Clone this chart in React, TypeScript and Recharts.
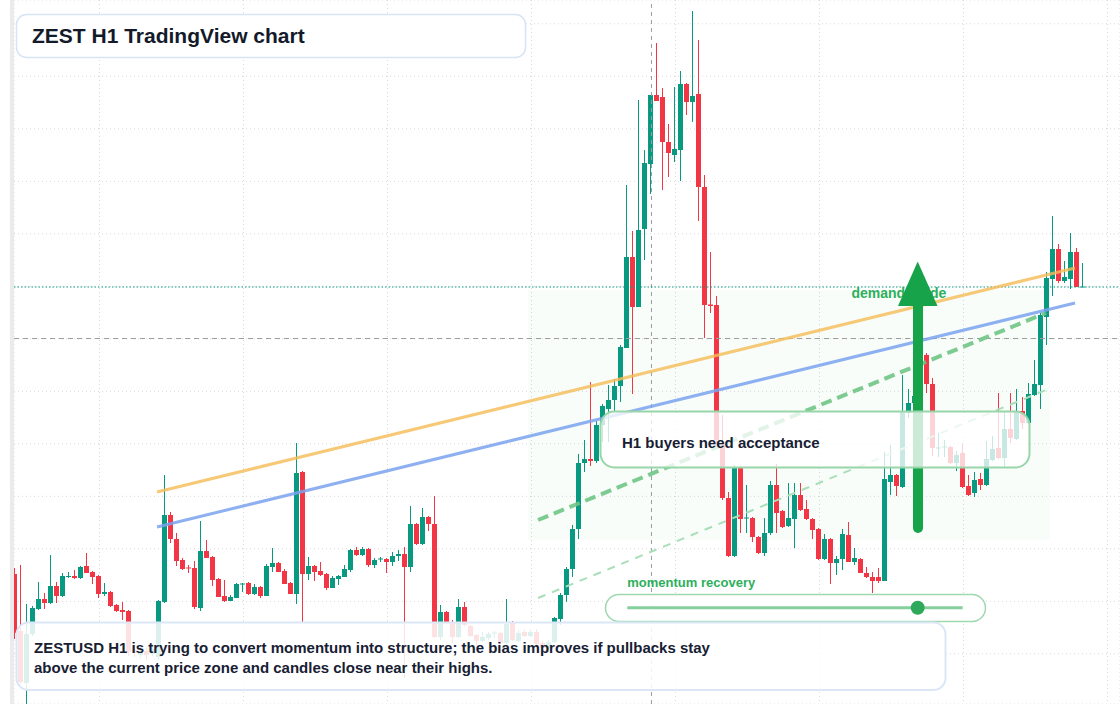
import React from 'react';
import {
  ComposedChart,
  Bar,
  XAxis,
  YAxis,
  CartesianGrid,
  ReferenceLine,
  ReferenceArea,
} from 'recharts';

// ZESTUSD H1 candles, price units (no axis is shown)
const opens = [
  130, 73, 21, 70, 95, 105, 101, 118, 108, 127, 128, 126, 138, 132, 128, 110, 112, 99, 94, 93,
  54, 49, 53, 50, 47, 102, 189, 165, 144, 136.5, 136, 96, 153, 147, 125, 108, 103, 106, 119.5, 121,
  110, 117, 108, 137, 141, 133, 121, 110, 232, 130, 138, 133, 130, 116, 125, 127, 134, 154, 149, 155,
  139, 144.5, 145, 142, 148, 150, 137, 180, 160, 187, 180, 67, 92, 82, 67, 97, 78, 69, 63, 66,
  70.5, 71, 61, 81, 63, 72, 68, 72, 61, 56, 62, 85, 109, 135, 175, 241, 245, 243, 279, 295,
  304, 318, 356, 447, 397, 475, 540, 609, 607, 562, 549, 554, 620, 602, 610, 517, 399.5, 399, 259, 206,
  148, 237, 185.5, 186, 167, 151, 171, 219, 193, 178, 185, 209, 195, 185, 175, 145, 165, 141, 145, 169,
  142, 145, 131, 127, 127, 123, 222, 229, 217, 291, 301, 308, 349, 320, 255.5, 256.5, 257, 241, 251, 218,
  211, 225, 219, 244, 256, 246, 275, 265, 293, 281, 309, 319, 387, 425, 455, 423, 425, 452, 417,
];
const highs = [
  136, 139, 100, 98, 122, 111, 149, 122, 131, 132, 134, 138, 151, 133, 129, 121, 113, 100, 102, 94,
  59, 58, 57, 60, 104, 229, 192, 171, 146, 139, 143, 183, 164, 148, 126, 124, 109, 121, 121, 122,
  120, 118, 140, 156, 142, 135, 122, 261, 233, 147, 139, 142, 131, 128, 129, 139, 155, 157, 157, 156,
  146, 147, 146, 152, 154, 157, 198, 181, 196, 188, 208, 99, 93, 84, 105, 102, 79, 70, 72, 72,
  73, 72, 105, 83, 74, 74, 74, 75, 63, 64, 87, 111, 137, 179, 250, 264, 322, 283, 300, 319,
  325, 359, 519, 473, 604, 554, 609, 661, 616, 580, 617, 633, 621, 693, 664, 529, 452, 408, 289, 212,
  239, 238, 219, 187, 168, 186, 223, 240, 194, 221, 221, 221, 204, 186, 176, 170, 166, 148, 175, 182,
  156, 146, 137, 132, 136, 252, 259, 230, 329, 315, 314, 352, 351, 326, 271, 264, 258, 253, 261, 229,
  232, 231, 263, 268, 311, 293, 311, 315, 307, 321, 344, 391, 432, 488, 460, 443, 471, 456, 441,
];
const lows = [
  65, 20, 0, 68, 94, 95, 100, 101, 107, 126, 125, 125, 131, 120, 106, 108, 97, 92, 84, 48,
  47, 46, 44, 48, 44, 101, 161, 138, 134, 131, 95, 93, 146, 118, 107, 102, 103, 106, 112, 109,
  109, 106, 108, 132, 132, 120, 110, 100, 81, 124, 123, 128, 114, 116, 119, 127, 132, 148, 148, 137,
  136, 142, 131, 138, 143, 26, 132, 159, 159, 173, 66, 64, 81, 61, 66, 78, 67, 59, 62, 64,
  66, 60, 60, 63, 62, 67, 67, 58, 54, 52, 61, 79, 102, 127, 165, 232, 238, 241, 262, 262,
  293, 302, 356, 310, 397, 444, 510, 603, 514, 527, 542, 523, 589, 582, 483, 366, 391, 259, 204, 147,
  147, 171, 171, 162, 150, 148, 169, 171, 176, 177, 156, 193, 184, 165, 144, 144, 120, 129, 134, 142,
  139, 131, 126, 111, 121, 123, 209, 208, 216, 286, 299, 306, 311, 248, 247, 247, 240, 233, 216, 208,
  207, 214, 218, 243, 245, 237, 261, 264, 275, 280, 308, 295, 359, 408, 421, 421, 415, 417, 417,
];
const closes = [
  71, 22, 70, 96, 105, 101, 118, 108, 128, 128, 126, 137, 131, 127, 110, 112, 98, 93, 92, 52,
  51, 53, 49, 55, 103, 189, 165, 143, 135, 135.5, 97, 153, 146, 124, 107, 103, 107, 120, 120.5, 110,
  117, 108, 138, 141, 132, 120, 110, 231, 130, 138, 132, 129, 116, 126, 128, 135, 154, 149, 155, 139,
  144, 145.5, 142, 148, 150, 137, 180, 160, 187, 180, 67, 92, 82, 67, 97, 79, 68, 63, 67, 70,
  71.5, 61, 80, 64, 71, 68, 72, 60, 56, 62, 86, 109, 135, 175, 241, 245, 243, 279, 298, 304,
  318, 357, 447, 397, 474, 541, 609, 603, 562, 551, 555, 620, 602, 608, 517, 399, 398, 264, 206, 148,
  237, 185, 186.5, 167, 151, 171, 219, 191, 177, 186, 209, 194, 185, 174, 145, 165, 141, 145, 170, 142,
  146, 131, 127, 123, 123, 225, 229, 218, 292, 301, 308, 349, 320, 256, 256.5, 257.5, 241, 249, 217, 209,
  224, 219, 245, 255, 246, 275, 266, 292, 281, 310, 320, 389, 426, 455, 423, 427, 452, 417, 417.5,
];

// dotted grid positions (bar index / price)
const xGridTicks = [14.08, 38.08, 62.08, 86.08, 110.08, 134.08, 158.08, 182.08];
const yGridTicks = [680.2, 627.7, 575.2, 522.7, 470.2, 417.7, 365.2, 312.7, 260.2, 207.7, 155.2, 102.7, 50.2];

// levels and drawings
const lastPrice = 417;
const crossPrice = 365.5;
const crossBar = 106.08;
const demandZone = { x1: 85.5, x2: 172.5, y1: 164, y2: 414 };
const orangeTrend = [{ x: 23.67, y: 212 }, { x: 176.67, y: 436 }];
const blueTrend = [{ x: 23.67, y: 177 }, { x: 176.67, y: 401 }];
const greenTrend = [{ x: 87.17, y: 184 }, { x: 171.83, y: 391 }];
const lightTrend = [{ x: 87.17, y: 106 }, { x: 171.83, y: 314 }];

const GREEN = '#089981';
const RED = '#f23645';
const FONT = '"Liberation Sans", Arial, Helvetica, sans-serif';

const candles = opens.map((o, i) => ({
  i,
  o,
  h: highs[i],
  l: lows[i],
  c: closes[i],
}));

function Candle(props: any) {
  const { x, y, width, height, payload } = props;
  if (x == null || y == null || !payload) return null;
  const { o, h, l, c } = payload;
  const color = c >= o ? GREEN : RED;
  const top = Math.min(y, y + height);
  const span = Math.abs(height);
  const k = h === l ? 0 : span / (h - l);
  const bodyTop = top + (h - Math.max(o, c)) * k;
  const bodyH = Math.max(1, Math.abs(o - c) * k);
  const left = Math.round(x + width / 2 - 2.5);
  const cx = left + 2.5;
  return (
    <g>
      <line x1={cx} x2={cx} y1={top} y2={top + span} stroke={color} strokeWidth={1} />
      <rect x={left} y={bodyTop} width={5} height={bodyH} fill={color} />
    </g>
  );
}

export default function App() {
  return (
    <div style={{ position: 'relative', width: 1120, height: 704, background: '#fff', fontFamily: FONT }}>
      <style>{'body{margin:0}'}</style>
      <ComposedChart
        width={1120}
        height={704}
        data={candles}
        margin={{ top: 0, right: 0, bottom: 0, left: 14 }}
      >
        <CartesianGrid stroke="#d6d9dd" strokeDasharray="1 3" />
        <XAxis
          dataKey="i"
          type="number"
          domain={[-1 / 6, 1105 / 6]}
          ticks={xGridTicks}
          allowDataOverflow
          hide
        />
        <YAxis type="number" domain={[0, 704]} ticks={yGridTicks} allowDataOverflow hide />
        <ReferenceArea
          x1={demandZone.x1}
          x2={demandZone.x2}
          y1={demandZone.y1}
          y2={demandZone.y2}
          fill="#22c55e"
          fillOpacity={0.03}
          stroke="none"
        />
        <ReferenceLine x={crossBar} stroke="#9e9e9e" strokeDasharray="4 4" />
        <ReferenceLine y={crossPrice} stroke="#9e9e9e" strokeDasharray="5 4" />
        <ReferenceLine y={lastPrice} stroke={GREEN} strokeDasharray="1.5 2" />
        <Bar
          dataKey={(d: any) => [d.l, d.h]}
          barSize={5}
          shape={<Candle />}
          isAnimationActive={false}
        />
        <ReferenceLine segment={lightTrend} stroke="#a9dfb8" strokeWidth={2} strokeDasharray="8 7" />
        <ReferenceLine segment={greenTrend} stroke="#6fc585" strokeWidth={4} strokeDasharray="11 6" strokeOpacity={0.9} />
        <ReferenceLine segment={blueTrend} stroke="#7aa2ef" strokeWidth={3} strokeOpacity={0.85} />
        <ReferenceLine segment={orangeTrend} stroke="#f5bb55" strokeWidth={3} strokeOpacity={0.8} />
      </ComposedChart>

      <svg
        width={1120}
        height={704}
        style={{ position: 'absolute', left: 0, top: 0, pointerEvents: 'none' }}
      >
        <rect x={10} y={0} width={4} height={704} fill="#ebebeb" />

        <text x={851.5} y={297.5} fontSize={14} fontWeight={700} fill="#2eaf5c" fontFamily={FONT}>
          demand guide
        </text>
        <polygon points="898,306 937.5,306 917.7,261.5" fill="#17a34a" />
        <rect x={913} y={300} width={10} height={233} rx={5} fill="#17a34a" />

        <rect x={600.5} y={411.5} width={429} height={56} rx={14} fill="rgba(255,255,255,0.78)" stroke="#98d6a9" strokeWidth={2} />
        <text x={622} y={447.5} fontSize={15} fontWeight={700} fill="#172033" fontFamily={FONT}>
          H1 buyers need acceptance
        </text>

        <text x={627.3} y={587.3} fontSize={13} fontWeight={700} fill="#2eaf5c" fontFamily={FONT}>
          momentum recovery
        </text>
        <rect x={605.5} y={594.5} width={380} height={27} rx={13.5} fill="rgba(255,255,255,0.94)" stroke="#9ed8ae" strokeWidth={1.5} />
        <line x1={627.3} x2={962.7} y1={607.7} y2={607.7} stroke="#86cf9e" strokeWidth={3} />
        <circle cx={917.7} cy={607.7} r={7} fill="#2ea85a" />

        <rect x={16.5} y={622.5} width={929} height={67.5} rx={12} fill="rgba(255,255,255,0.86)" stroke="#dbe7f7" strokeWidth={2} />
        <text fontSize={15} fontWeight={700} fill="#172033" fontFamily={FONT}>
          <tspan x={34} y={653.3}>
            ZESTUSD H1 is trying to convert momentum into structure; the bias improves if pullbacks stay
          </tspan>
          <tspan x={34} y={673.3}>
            above the current price zone and candles close near their highs.
          </tspan>
        </text>

        <rect x={16.5} y={14.5} width={509} height={43} rx={10} fill="#ffffff" stroke="#d6e4f6" strokeWidth={1.5} />
        <text x={32} y={43.3} fontSize={21} fontWeight={700} fill="#131a2a" fontFamily={FONT}>
          ZEST H1 TradingView chart
        </text>
      </svg>
    </div>
  );
}
